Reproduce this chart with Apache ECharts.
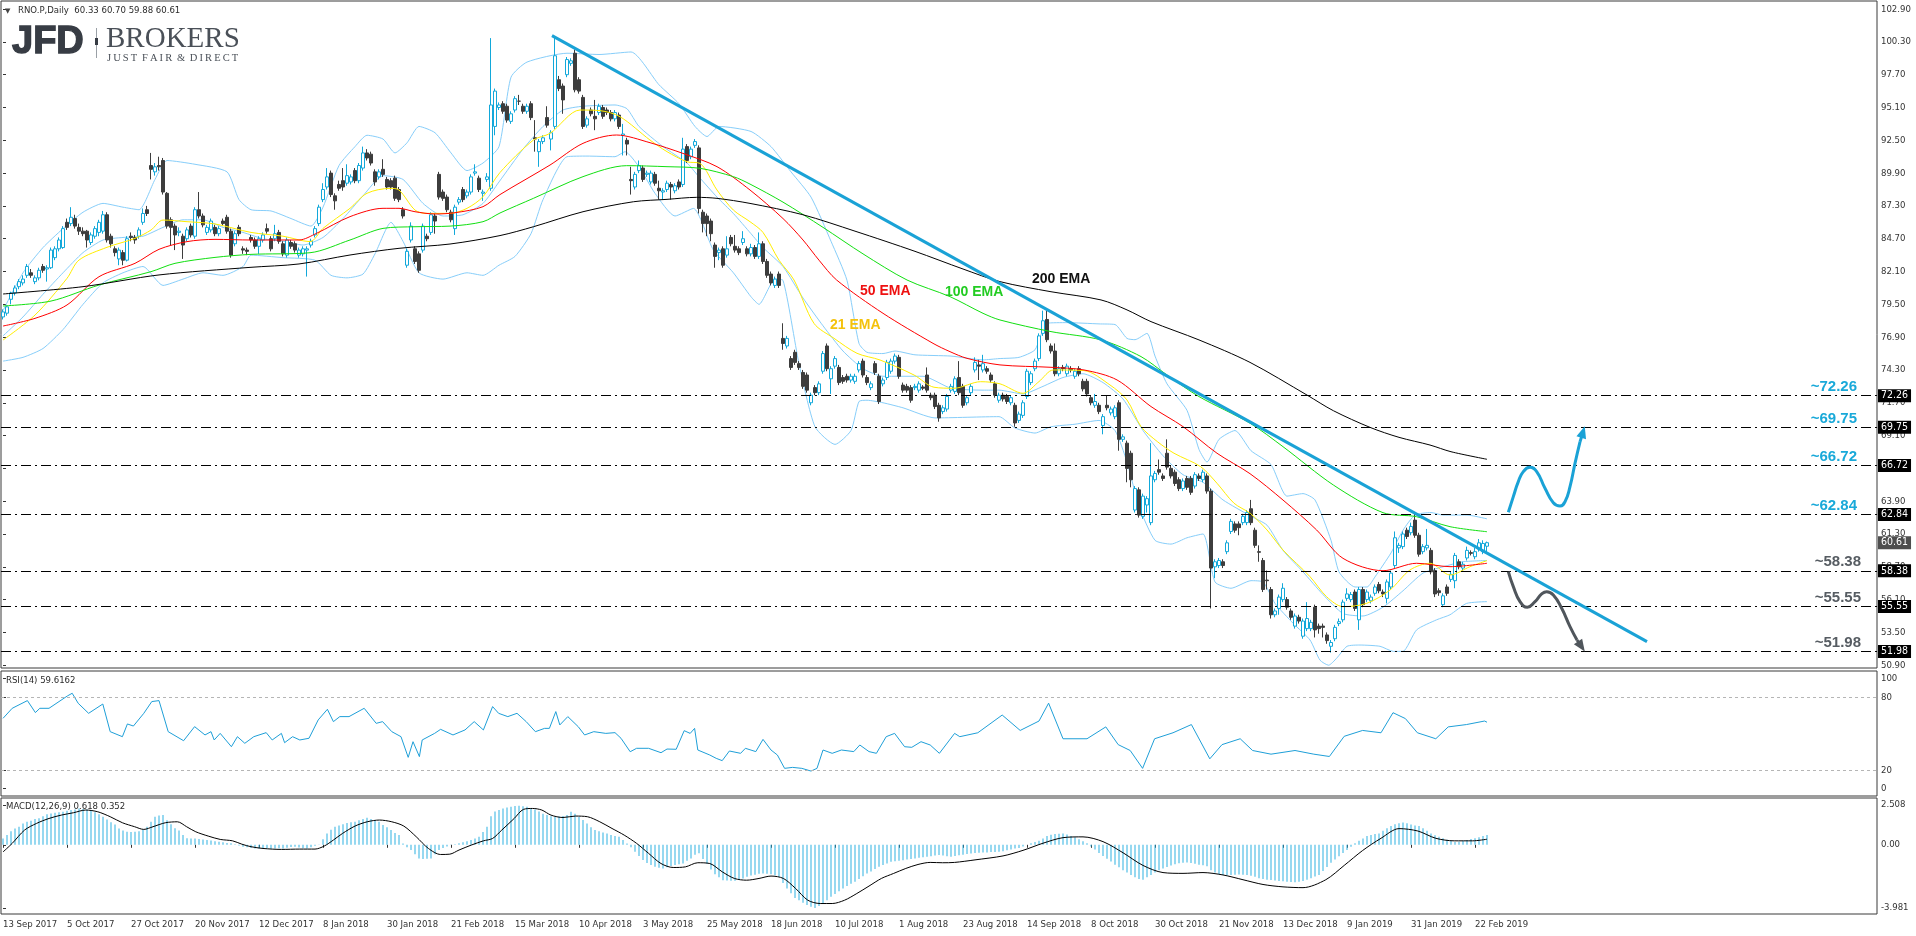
<!DOCTYPE html>
<html><head><meta charset="utf-8">
<script src="https://cdn.jsdelivr.net/npm/echarts@6/dist/echarts.min.js"></script>
<style>html,body{margin:0;padding:0;background:#fff;}#c{width:1916px;height:936px;}</style>
</head><body><div id="c"></div>
<script>
const tickLabels = ['13 Sep 2017','5 Oct 2017','27 Oct 2017','20 Nov 2017','12 Dec 2017','8 Jan 2018','30 Jan 2018','21 Feb 2018','15 Mar 2018','10 Apr 2018','3 May 2018','25 May 2018','18 Jun 2018','10 Jul 2018','1 Aug 2018','23 Aug 2018','14 Sep 2018','8 Oct 2018','30 Oct 2018','21 Nov 2018','13 Dec 2018','9 Jan 2019','31 Jan 2019','22 Feb 2019'];
const priceTicks = [50.9,53.5,56.1,58.7,61.3,63.9,66.5,69.1,71.7,74.3,76.9,79.5,82.1,84.7,87.3,89.9,92.5,95.1,97.7,100.3,102.9];
const rsiTicks = [5.8,20,80,95.7];
const rsiTickNames = ['0','20','80','100'];
const macdTicks = [-3.981,0,2.508];
// [open, close, low, high] per daily bar
const ohlc = [
[78.5,78.9,78.3,79.1],[78.8,79.3,78.6,79.4],[79.9,80.4,79.5,80.5],[80.4,80.8,80.2,81.0],
[80.9,81.3,80.7,81.5],[81.2,81.5,81.0,81.8],[81.8,82.5,81.6,82.7],[82.0,81.8,81.6,82.3],
[81.3,81.6,81.1,81.8],[81.6,82.2,81.4,82.4],[82.5,82.2,82.0,82.7],[82.3,82.4,81.3,82.6],
[82.4,83.8,82.3,84.0],[83.2,83.9,83.0,84.1],[83.9,84.6,83.7,84.8],[84.0,85.5,83.9,85.7],
[86.0,85.6,85.4,86.3],[85.9,86.4,85.7,87.2],[86.3,85.7,85.5,86.6],[85.6,85.3,85.0,85.9],
[85.3,85.1,84.9,85.6],[85.3,84.6,84.0,85.4],[84.4,85.0,84.2,85.2],[84.9,85.5,84.7,85.7],
[85.2,86.0,84.9,86.2],[85.3,86.6,85.1,86.9],[86.6,84.6,84.4,86.8],[84.9,84.3,84.0,85.1],
[83.9,83.6,83.3,84.1],[83.1,83.8,82.6,84.0],[83.6,83.0,82.6,83.8],[83.0,84.7,82.9,84.9],
[84.9,84.8,84.5,85.2],[84.8,84.6,84.3,85.0],[84.9,85.4,84.7,85.6],[86.0,86.7,85.8,87.1],
[87.0,86.7,86.5,87.3],[90.5,90.2,89.4,91.5],[90.0,90.4,89.7,90.7],[90.5,90.4,90.1,91.2],
[90.9,88.4,88.2,91.1],[88.3,85.7,85.5,88.4],[86.2,85.6,84.2,86.4],[85.7,85.0,83.8,85.9],
[85.2,85.3,84.9,85.6],[84.9,84.2,83.1,85.1],[84.7,85.4,84.5,85.6],[85.7,85.0,84.8,85.9],
[84.9,87.0,84.7,87.2],[87.0,86.5,86.3,88.4],[86.5,85.8,85.6,86.7],[85.2,85.6,85.0,85.8],
[85.4,86.1,85.2,86.3],[85.6,85.1,84.9,85.8],[85.1,85.5,84.9,85.7],[86.1,85.9,85.7,86.3],
[86.4,85.3,85.1,86.6],[85.3,83.4,83.2,85.5],[84.3,85.1,84.1,85.3],[85.6,85.1,84.9,85.8],
[83.9,83.8,83.5,84.1],[83.8,83.7,83.4,84.0],[84.8,84.6,84.4,85.0],[84.6,84.1,83.9,84.8],
[84.1,84.7,83.5,84.9],[84.6,85.0,84.4,85.2],[85.5,85.3,85.1,85.9],[84.7,83.9,83.7,84.9],
[84.7,85.1,84.5,85.8],[85.2,84.5,84.3,85.4],[84.3,83.5,83.3,84.5],[83.4,84.6,83.2,84.8],
[84.4,84.1,83.9,84.6],[84.3,83.8,83.6,84.5],[83.4,83.8,83.2,84.0],[83.5,83.9,83.3,84.1],
[83.8,83.9,81.7,84.1],[84.2,84.5,84.0,84.7],[85.0,85.5,84.8,85.7],[85.9,87.2,85.7,87.4],
[87.8,88.6,87.6,89.1],[88.8,89.6,88.6,90.3],[89.9,88.2,88.0,90.1],[88.1,87.7,87.0,88.3],
[89.0,88.7,88.5,89.3],[89.3,88.8,88.5,90.3],[89.1,89.7,88.9,90.6],[89.2,89.6,89.0,89.8],
[90.1,89.3,89.1,90.3],[89.3,90.5,89.1,90.7],[90.3,91.5,90.1,92.0],[91.5,91.1,90.9,91.8],
[91.4,90.7,90.5,91.6],[90.0,89.2,88.9,90.2],[89.6,90.0,89.4,90.2],[90.2,89.8,89.6,91.0],
[89.4,88.8,88.6,89.6],[89.3,88.8,88.6,89.5],[89.5,87.9,87.7,89.7],[88.6,87.8,87.6,88.8],
[87.0,86.5,86.3,87.2],[82.6,83.7,82.4,83.9],[84.6,85.7,84.4,86.0],[83.9,82.9,82.7,84.1],
[83.5,82.2,82.0,83.7],[83.8,85.7,83.6,85.9],[84.9,84.7,84.5,85.1],[85.2,86.6,85.0,86.8],
[86.5,86.1,85.1,86.7],[89.8,88.0,87.8,90.0],[88.4,87.9,87.7,88.6],[88.0,87.0,86.8,88.2],
[86.8,86.2,86.0,87.0],[85.5,87.2,85.0,87.4],[87.6,87.8,87.4,88.0],[88.6,87.8,87.6,88.8],
[88.1,88.4,87.9,88.6],[88.4,89.6,88.2,89.8],[89.9,90.0,89.7,90.6],[89.5,88.6,88.4,89.7],
[88.3,88.4,87.7,88.6],[89.4,89.6,89.2,89.9],[88.7,95.3,88.5,100.6],[93.6,96.4,92.9,96.6],
[95.1,95.3,94.9,95.5],[95.4,94.8,94.6,95.6],[95.2,94.1,93.9,95.4],[94.0,94.6,93.8,94.8],
[94.9,95.8,94.7,96.0],[95.6,95.6,95.3,96.1],[95.2,94.8,94.6,95.4],[94.8,95.2,94.6,95.4],
[95.4,94.3,94.1,95.6],[92.7,92.6,91.6,94.1],[91.6,92.4,90.4,92.6],[92.4,92.7,92.2,92.9],
[94.3,93.7,93.5,95.2],[92.6,93.1,91.7,93.3],[93.6,99.2,93.4,100.7],[97.3,96.6,96.4,97.6],
[96.8,95.7,94.6,97.0],[97.7,98.9,97.5,99.1],[98.6,98.8,98.4,99.0],[99.4,96.5,96.3,99.7],
[97.3,96.4,96.2,97.5],[95.9,93.6,93.4,96.1],[93.7,94.2,93.5,94.4],[94.9,94.6,94.4,95.1],
[94.4,94.2,93.3,95.7],[94.7,95.2,94.5,95.4],[95.1,94.4,94.2,95.3],[94.9,94.7,94.5,95.1],
[94.7,94.2,94.0,94.9],[94.2,94.7,94.0,94.9],[94.5,93.6,93.4,94.7],[92.9,93.0,91.3,93.8],
[92.5,92.2,91.3,92.7],[89.4,89.3,88.2,90.4],[88.8,89.8,88.6,90.0],[90.1,90.5,89.9,90.9],
[90.3,89.4,89.2,90.5],[89.8,89.9,89.6,90.1],[89.2,89.9,89.0,90.1],[89.8,89.1,88.9,90.0],
[88.7,88.5,87.8,89.3],[88.4,88.5,87.8,88.7],[88.6,89.1,88.4,89.3],[89.0,88.8,87.8,89.2],
[88.5,88.9,88.3,89.1],[89.2,88.8,88.6,89.4],[89.0,91.8,88.8,92.7],[92.0,90.9,90.7,92.2],
[91.2,91.8,91.0,92.0],[92.1,92.4,91.9,92.6],[91.9,87.1,86.7,92.1],[86.8,85.9,85.2,87.0],
[86.5,85.9,84.9,86.7],[86.1,85.1,84.5,86.3],[84.2,83.3,82.4,84.4],[83.6,83.8,83.0,84.0],
[83.9,82.6,82.4,84.1],[83.4,83.9,83.2,84.9],[84.8,84.3,84.1,85.0],[84.1,83.8,83.6,85.0],
[83.9,83.6,83.4,84.1],[84.4,84.7,84.2,85.3],[83.9,83.5,83.3,84.1],[83.5,84.0,83.3,84.3],
[84.0,83.3,83.1,84.2],[83.3,84.3,83.1,85.2],[84.3,82.9,82.7,84.5],[82.9,81.8,81.6,83.1],
[81.9,81.2,81.0,82.1],[81.0,81.5,80.8,81.7],[81.9,81.0,80.8,82.1],[76.8,76.4,75.9,78.0],
[76.2,76.8,76.0,77.0],[75.2,74.5,74.3,75.4],[75.7,74.9,74.7,75.9],[74.8,74.5,74.3,75.0],
[74.1,73.0,72.8,74.3],[73.9,72.7,72.5,74.1],[71.7,72.3,71.5,72.5],[72.9,72.5,72.3,73.1],
[72.5,73.2,72.3,73.4],[74.2,75.6,74.0,75.8],[76.2,74.4,74.2,76.4],[73.6,74.4,72.4,74.6],
[74.6,75.2,74.4,75.4],[74.5,73.3,73.1,74.7],[73.7,73.4,73.2,73.9],[73.8,73.5,73.3,74.0],
[73.5,73.8,73.3,74.0],[73.4,73.8,73.2,74.0],[74.3,74.8,74.1,75.0],[75.0,73.9,73.7,75.2],
[73.7,73.3,73.1,73.9],[72.9,73.2,72.7,73.4],[74.8,74.1,73.9,75.0],[73.8,71.8,71.6,74.0],
[73.2,73.5,73.0,73.7],[73.7,74.9,73.5,75.1],[74.2,75.0,74.0,75.2],[75.0,75.4,74.8,75.6],
[75.3,73.8,73.6,75.5],[73.1,72.7,72.5,73.3],[73.0,72.7,72.5,73.2],[72.9,71.9,71.7,73.1],
[72.9,73.0,72.7,73.2],[72.7,73.2,72.5,73.4],[72.95,72.85,72.7,73.1],[73.9,72.7,72.5,74.5],
[72.3,72.1,71.9,72.5],[72.3,71.4,71.2,72.5],[71.5,70.5,70.2,71.7],[71.0,71.3,70.8,71.5],
[71.2,72.2,71.0,72.4],[72.7,73.0,72.5,73.2],[72.6,73.6,72.4,73.8],[73.7,72.5,72.3,75.0],
[73.0,71.5,71.3,73.2],[71.7,72.1,71.5,72.3],[72.5,73.0,72.3,73.2],[74.3,74.9,74.1,75.3],
[74.7,74.6,73.5,75.1],[74.3,74.8,74.1,75.5],[74.4,74.2,74.0,74.6],[73.9,73.5,73.3,74.1],
[73.2,72.3,72.1,73.4],[71.9,72.3,71.7,72.5],[72.3,72.0,71.8,72.5],[72.2,71.8,71.6,72.4],
[71.7,72.1,71.5,72.3],[71.5,70.1,69.8,71.7],[70.3,70.8,70.1,71.0],[70.7,71.7,70.5,71.9],
[72.2,74.2,72.0,74.4],[73.3,74.0,73.1,74.2],[74.4,75.0,74.2,75.2],[75.2,77.0,75.0,77.2],
[77.2,78.2,77.0,79.0],[78.3,76.7,76.5,79.0],[76.2,75.8,75.6,76.4],[75.8,74.0,73.8,76.4],
[74.0,74.4,73.8,74.6],[74.5,74.4,74.2,74.7],[74.0,74.6,73.8,74.8],[74.4,74.3,74.1,74.6],
[73.8,74.2,73.6,74.4],[74.4,74.0,73.8,74.6],[73.4,72.8,72.6,73.6],[73.4,72.4,72.2,73.6],
[72.1,71.7,71.5,72.3],[71.5,71.8,71.3,72.4],[71.5,71.0,70.8,71.7],[69.9,70.6,69.2,70.8],
[71.5,71.3,71.1,72.3],[70.9,71.2,70.7,71.4],[70.6,71.3,70.4,71.5],[71.7,68.8,67.9,71.9],
[68.8,69.0,68.6,69.2],[68.5,66.5,65.4,68.7],[67.7,65.6,65.0,67.9],[63.2,64.9,63.0,65.1],
[64.8,62.8,62.6,65.0],[62.7,64.3,62.5,64.5],[63.6,64.1,63.0,64.3],[62.2,65.9,62.0,68.5],
[65.6,66.1,65.4,66.3],[66.4,66.2,66.0,67.2],[65.9,65.7,65.5,66.1],[67.7,66.6,66.4,68.8],
[66.5,65.9,65.7,66.7],[66.2,65.3,65.1,66.4],[65.6,64.9,64.7,65.8],[64.9,65.5,64.7,65.7],
[65.7,65.0,64.8,65.9],[65.7,64.6,64.4,65.9],[65.1,66.0,64.9,66.2],[65.9,65.7,65.5,66.1],
[65.6,66.2,65.4,66.4],[65.9,64.7,64.5,66.1],[64.7,58.6,55.4,64.9],[58.7,59.1,57.8,59.3],
[58.8,59.2,58.6,59.4],[59.1,58.8,58.6,59.3],[59.9,60.6,59.7,60.8],[61.5,62.3,61.3,62.5],
[62.1,61.6,61.4,62.3],[62.1,61.8,61.2,62.3],[62.2,62.7,62.0,62.9],[62.2,63.0,62.0,63.2],
[63.3,62.2,62.0,64.0],[61.6,60.4,60.2,61.8],[59.9,59.85,59.1,60.4],[59.2,56.9,56.7,59.4],
[57.65,57.6,56.9,58.4],[56.9,54.9,54.6,57.1],[54.9,55.2,54.7,55.4],[55.4,56.3,54.9,56.5],
[56.1,57.0,55.9,57.4],[56.1,55.5,55.3,56.3],[55.2,54.7,54.5,55.4],[54.0,54.8,53.8,55.0],
[54.7,54.4,54.2,54.9],[53.2,54.4,53.0,54.6],[53.8,54.6,53.6,55.9],[53.8,54.3,53.6,54.5],
[55.5,53.7,53.1,55.7],[54.0,53.8,53.4,54.2],[54.0,53.9,53.1,54.2],[53.3,52.85,52.6,53.5],
[52.4,52.7,51.9,52.9],[53.0,53.9,52.8,54.1],[54.2,54.35,54.0,54.6],[54.5,55.9,54.3,56.1],
[56.2,56.55,56.0,57.0],[56.1,56.5,55.9,56.7],[56.7,55.4,55.2,56.9],[54.5,56.9,53.7,57.1],
[56.9,55.7,55.5,57.1],[56.1,56.7,55.9,56.9],[56.0,56.3,55.8,56.5],[56.6,57.1,56.4,57.3],
[57.3,56.8,56.6,57.5],[56.7,56.55,56.3,56.9],[56.2,57.5,55.8,57.7],[57.1,58.2,56.9,58.4],
[58.8,61.0,58.6,61.5],[60.2,60.4,59.8,60.6],[60.3,61.3,60.1,61.5],[61.6,61.1,60.9,61.8],
[61.4,61.9,61.2,62.2],[62.4,61.2,61.0,62.9],[61.2,59.7,59.5,61.4],[59.9,60.3,59.7,60.5],
[60.2,60.4,60.0,61.7],[60.0,58.3,58.1,60.2],[58.4,56.55,56.3,58.6],[56.8,56.65,56.4,57.0],
[55.7,56.4,55.5,56.6],[57.1,56.6,56.4,57.3],[57.7,58.1,57.5,58.3],[57.6,59.6,57.0,59.8],
[59.1,58.7,58.5,59.3],[58.6,58.9,58.4,59.1],[59.4,60.0,59.2,60.3],[59.82,59.77,59.6,60.0],
[59.5,59.9,59.3,60.2],[60.1,60.6,59.9,60.9],[59.9,60.55,59.7,60.8],[60.33,60.61,59.88,60.70]
];
// indicator lines: [bar index, value]
const ema21 = [[0,76.67],[8,78.65],[16,81.56],[19,83.01],[26,84.02],[33,84.73],[37,85.39],[40,86.18],[46,86.05],[53,85.87],[62,85.2],[70,84.9],[76.75,84.47],[80,85.52],[86.75,87.11],[91,88.3],[96.75,88.69],[99,88.56],[103,86.97],[105.75,86.71],[111.75,86.71],[116,87.11],[120,88.03],[124.25,89.95],[132.6,92.52],[136.75,93.05],[144.25,94.9],[149.25,94.85],[154.25,94.37],[161.75,92.52],[166,91.6],[171,90.8],[174.25,90.67],[178.5,88.56],[182.6,86.97],[186.75,86.05],[190,85.2],[194,83.0],[197.75,81.43],[202.75,77.99],[207.75,76.81],[213.5,75.62],[219.25,75.09],[227.75,73.9],[232.75,72.93],[237.75,72.85],[244.4,73.37],[249.25,73.2],[255,72.45],[259,73.38],[262.6,74.3],[270.25,74.25],[276.75,73.11],[281,71.92],[284.5,69.81],[288.6,68.62],[292.75,67.7],[299.4,66.64],[303.5,65.32],[307.75,63.74],[311.75,62.94],[316,61.62],[320,60.03],[326.75,57.92],[330.9,56.33],[335,55.54],[340.9,55.8],[346.75,56.86],[351.75,58.45],[356.75,58.98],[361.75,58.05],[366.75,58.71],[371,59.19]];
const ema50 = [[0,77.78],[8,78.39],[16,79.45],[24,81.69],[33,82.75],[39,83.86],[46,84.47],[53,84.65],[62,84.6],[74,84.6],[78.4,85.13],[86.75,86.45],[95,87.11],[99,87.11],[103,86.84],[108,86.66],[113,86.76],[120,87.24],[124.25,88.2],[136.75,90.54],[145,92.26],[153.4,92.92],[161.75,92.31],[170,91.46],[178.5,90.41],[186.75,88.56],[195,86.3],[200,84.6],[204,83.0],[208.4,81.43],[220,78.79],[232.5,76.41],[236.75,75.75],[241,75.22],[249.25,74.7],[262,74.51],[270.25,74.3],[278.5,73.51],[287,71.4],[295,69.81],[303.5,67.7],[311.75,66.08],[320,63.99],[328.4,61.62],[335,59.37],[345,58.39],[353.4,58.98],[361.75,58.71],[371,58.98]];
const ema100 = [[0,79.37],[12,79.76],[24,81.03],[37,82.09],[43,82.75],[53,83.22],[62,83.46],[76.75,83.59],[86.75,84.6],[95,85.52],[103,85.65],[111.75,85.7],[120,86.05],[124.25,86.74],[132.6,87.9],[145,89.62],[155.9,90.49],[166,90.41],[174.25,90.28],[182.6,89.62],[186.75,89.03],[195,87.6],[205,85.6],[215,83.5],[226,81.43],[236.75,80.11],[245,78.79],[249.25,78.26],[262,77.34],[274.5,76.68],[284.5,75.36],[291,73.9],[299,72.19],[311.75,70.08],[320,68.22],[332.6,65.18],[345,62.99],[353.4,62.67],[361.75,61.88],[371,61.48]];
const ema200 = [[0,80.32],[20,80.9],[39,81.83],[61.75,82.43],[74,82.7],[86.75,83.41],[99,83.94],[111.75,84.28],[124.25,84.95],[132.6,85.65],[145,86.84],[157.6,87.63],[166,87.82],[173.4,87.98],[178.5,87.9],[186.75,87.5],[200,86.6],[213,85.3],[228,83.7],[240,82.3],[249.25,81.3],[262,80.5],[274.5,79.85],[281,79.06],[287,78.13],[299,76.68],[311.75,74.9],[326,72.31],[332.6,71.07],[341.75,69.75],[349,68.96],[356.75,68.35],[362,67.82],[371,67.22]];
const bbUpper = [[0,79.0],[5,82.0],[10,84.0],[15,85.5],[20,86.8],[25,87.5],[30,87.2],[34,87.0],[38,89.4],[41,90.9],[48,90.6],[56,90.0],[59,87.8],[62,87.0],[67,86.9],[72,86.3],[77,85.7],[80,87.2],[84,90.5],[88,92.0],[91,92.9],[95,92.6],[98,91.5],[101,92.3],[104,93.6],[108,93.1],[112,91.5],[116,90.1],[120,90.7],[124,92.0],[127,97.5],[131,98.7],[141,99.4],[149,99.3],[157,99.5],[164,96.9],[169,95.4],[173,93.6],[176,92.8],[179,93.6],[187,93.2],[192,92.0],[197,90.0],[202,88.0],[207,84.5],[211,81.4],[214,76.4],[216,75.7],[220,75.6],[223,75.8],[228,75.5],[237,75.4],[245,75.1],[249,75.2],[254,75.3],[258,75.9],[261,78.0],[266,78.05],[274,77.95],[278,77.9],[281,76.8],[283,76.7],[286,77.2],[288,75.4],[291,73.2],[296,71.1],[299,68.0],[301,67.0],[304,68.8],[308,69.5],[312,67.9],[317,66.8],[321,64.3],[325,64.5],[328,64.0],[332,60.8],[334,58.3],[338,57.1],[341,57.1],[343,57.9],[347,59.8],[350,61.6],[353,62.8],[357,63.0],[360,62.8],[366,62.8],[371,62.5]];
const bbMiddle = [[0,77.0],[5,78.5],[10,80.3],[15,82.0],[20,83.6],[25,84.6],[30,84.8],[35,84.9],[40,85.6],[45,86.2],[50,86.2],[55,85.6],[60,85.2],[65,84.7],[70,84.5],[75,84.2],[80,84.8],[85,86.3],[90,88.1],[95,89.7],[100,89.4],[105,87.5],[110,86.5],[115,86.6],[120,87.5],[124,89.2],[130,91.8],[135,93.6],[140,94.9],[145,95.2],[153,95.3],[156,95.0],[159,93.6],[165,92.0],[171,90.7],[174,89.6],[178.5,88.0],[182.6,86.7],[187,85.1],[190,84.0],[195,82.5],[200,80.0],[205,77.8],[210,75.8],[215,74.4],[220,73.8],[230,73.8],[237,72.85],[245,72.7],[249,72.7],[255,72.4],[260,73.0],[265,73.7],[270,74.0],[275,73.3],[280,72.0],[285,69.5],[290,67.5],[295,66.0],[300,65.4],[305,64.0],[312,62.7],[316,62.0],[320,60.0],[325,58.3],[330,56.5],[335,55.0],[340,54.8],[345,55.5],[350,56.8],[355,58.2],[360,58.7],[365,59.1],[371,59.2]];
const bbLower = [[0,75.0],[5,75.3],[10,76.0],[15,77.5],[20,79.5],[25,81.2],[30,82.0],[35,82.5],[40,81.0],[45,81.5],[50,82.0],[55,81.8],[60,82.5],[62,83.4],[70,83.2],[78,83.0],[82,81.8],[86,81.6],[90,81.9],[93,83.5],[97,86.0],[100,84.5],[104,82.0],[110,81.5],[116,82.0],[120,81.8],[124,82.6],[128,83.3],[132,85.1],[135,87.8],[141,91.2],[146,91.25],[153,91.2],[155.5,91.6],[159,90.4],[163,88.3],[168,86.5],[172.6,87.1],[177.6,83.8],[182.6,82.0],[187,80.1],[189,79.5],[193,81.5],[195,81.4],[199,74.8],[203,69.8],[208,68.4],[212,69.5],[214,71.8],[216,71.9],[220,71.7],[225,71.3],[233,70.5],[249,70.6],[253,69.7],[258,69.3],[262,69.8],[268,70.0],[274,70.3],[278,69.5],[281,67.0],[284,63.5],[288,60.8],[292,60.5],[296,61.0],[300,61.3],[303,57.5],[307,57.0],[312,57.6],[315,57.5],[318,55.8],[322.6,54.2],[326.75,52.9],[329.25,51.3],[331.4,50.9],[333.4,51.45],[336,52.4],[339.25,52.5],[344.25,52.4],[347.6,52.0],[350,52.0],[353.4,53.7],[358.4,54.5],[361.75,54.9],[365.9,55.8],[371,55.94]];
const levels = [72.26,69.75,66.72,62.84,58.38,55.55,51.98];
const lastPrice = 60.61;
const trendline = [[137.25,100.8],[411,52.77]];
const upArrow = [[376.33,63.02],[377.58,64.26],[378.83,65.45],[380.08,66.24],[381.75,66.58],[383.42,66.24],[385.5,64.92],[387.58,63.78],[389.25,63.52],[390.5,63.86],[391.75,65.05],[393.0,66.9],[394.25,68.6]];
const upArrowHead = [[394.25,68.6],[395.0,69.38]];
const downArrow = [[376.33,58.32],[377.58,57.13],[379.25,55.94],[381.08,55.49],[383.0,55.94],[384.67,56.55],[385.92,56.73],[387.58,56.47],[389.67,55.41],[391.75,53.96],[393.5,52.9]];
const downArrowHead = [[393.5,52.9],[394.6,52.39]];
const rsi = [[0,62.8],[2.3,71.0],[6.1,77.3],[8.1,67.5],[9.2,71.0],[11.5,71.0],[16.1,81.1],[17.3,83.3],[18.8,75.1],[21.4,66.9],[24.95,74.5],[26.8,51.9],[29.85,47.8],[31.1,58.2],[32.6,56.5],[35.2,66.9],[37.2,76.5],[39,77.3],[41.3,51.9],[45.15,44.5],[47.9,56.0],[50.5,49.2],[52,51.9],[52.8,45.1],[54.3,50.5],[57.1,39.6],[58.6,47.8],[60.45,42.4],[62.7,47.8],[65.8,51.1],[67.3,45.1],[69.6,50.5],[70.4,42.9],[72.4,47.8],[74.2,45.1],[76.5,46.5],[78.8,61.5],[81.1,70.2],[82.6,60.1],[84.2,64.2],[86.5,64.2],[88,66.9],[90.3,71.0],[93.3,58.7],[94.9,60.1],[97.2,51.9],[99.5,47.8],[101.3,30.9],[102.5,43.7],[104.1,31.5],[104.8,45.1],[107.9,50.5],[109.4,53.8],[112.5,49.2],[115.5,53.3],[117.8,60.1],[120.1,53.3],[122.4,72.4],[123.9,66.9],[126.2,64.2],[128.5,66.9],[130.8,60.1],[133.1,51.9],[135.4,54.6],[136.6,54.6],[138.2,68.3],[139.2,57.4],[141.2,64.2],[143.8,56.0],[145.4,49.2],[147.7,51.9],[150.7,50.5],[153,51.1],[154.5,46.5],[156.8,35.5],[158.4,38.3],[161.4,38.3],[164.5,34.7],[166,37.7],[168.3,37.5],[170.3,52.7],[171.8,50.5],[172.9,54.6],[173.7,36.9],[176.7,32.8],[178.3,30.1],[179.8,28.2],[181.6,36.1],[184.4,34.2],[185.6,38.3],[188.2,35.6],[190,45.6],[192,36.9],[193.6,32.8],[195.4,21.9],[197.4,22.7],[199.7,21.9],[202,19.7],[203.5,21.9],[205,36.9],[207.3,34.2],[209.6,36.9],[212.7,35.6],[214.2,41.0],[216.5,35.6],[218.35,34.2],[220.8,47.8],[222.9,50.5],[225.4,39.6],[227.2,39.1],[229.5,43.7],[231.8,41.0],[234.1,34.2],[237.9,50.5],[239.2,47.8],[243.7,51],[249.8,65.5],[254.3,52.9],[259,60.6],[261.4,75.2],[265,46.1],[271,46.1],[275.7,55.8],[278.8,41.3],[281.8,36.5],[284.9,21.9],[287.9,46.1],[292.5,51.0],[297.1,57.7],[301.7,29.7],[304.75,41.3],[309.3,46.1],[312.4,36.5],[317,33.5],[323,36.5],[327.7,33.5],[331.6,31.6],[335.3,48.1],[339.9,52.9],[344.5,51],[347.5,67.4],[350.6,62.6],[353.6,51],[358.2,46.1],[361.3,55.8],[365.85,57.7],[370.4,60.6],[371,59.6]];
const macdHist = [
0.40,0.62,0.85,1.02,1.14,1.35,1.45,1.52,1.62,1.68,1.80,1.92,1.98,2.02,2.05,2.08,
2.14,2.19,2.22,2.29,2.25,2.22,2.19,2.05,1.92,1.77,1.60,1.42,1.28,1.02,0.90,0.82,
0.80,0.82,0.85,0.95,1.14,1.45,1.77,1.85,1.87,1.55,1.30,1.05,0.90,0.62,0.42,0.40,
0.40,0.36,0.33,0.30,0.27,0.23,0.20,0.16,0.12,0.09,0.03,-0.05,-0.12,-0.16,-0.20,-0.23,
-0.24,-0.22,-0.23,-0.25,-0.23,-0.22,-0.23,-0.18,-0.14,-0.12,-0.17,-0.21,-0.23,-0.15,-0.06,-0.02,
0.35,0.72,0.95,1.14,1.22,1.30,1.38,1.42,1.45,1.55,1.62,1.70,1.62,1.55,1.45,1.25,
1.10,0.93,0.75,0.61,0.08,-0.15,-0.33,-0.60,-0.86,-0.90,-0.88,-0.86,-0.60,-0.33,-0.20,-0.10,
-0.02,0.03,0.09,0.16,0.23,0.30,0.40,0.51,0.80,1.14,1.80,2.10,2.19,2.28,2.35,2.40,
2.44,2.46,2.43,2.40,2.30,2.23,2.10,1.95,1.87,1.80,1.77,1.78,1.82,1.87,2.08,1.95,
1.75,1.56,1.35,1.10,0.93,0.85,0.78,0.72,0.62,0.56,0.51,0.30,0.08,-0.15,-0.44,-0.70,
-0.95,-1.15,-1.28,-1.39,-1.45,-1.49,-1.42,-1.33,-1.28,-1.22,-1.18,-1.00,-0.86,-0.62,-0.54,-0.90,
-1.20,-1.55,-1.85,-2.05,-2.23,-2.25,-2.27,-2.27,-2.20,-2.12,-2.02,-1.94,-1.88,-1.82,-1.81,-1.83,
-1.85,-1.92,-2.02,-2.40,-2.75,-3.05,-3.35,-3.49,-3.65,-3.80,-3.90,-3.98,-3.85,-3.70,-3.50,-3.28,
-3.10,-2.92,-2.75,-2.60,-2.45,-2.33,-2.15,-1.98,-1.81,-1.68,-1.52,-1.39,-1.28,-1.18,-1.07,-1.03,
-1.00,-0.97,-0.93,-0.90,-0.86,-0.82,-0.79,-0.75,-0.72,-0.68,-0.65,-0.68,-0.72,-0.75,-0.70,-0.66,
-0.62,-0.58,-0.55,-0.52,-0.50,-0.49,-0.48,-0.46,-0.45,-0.44,-0.40,-0.35,-0.30,-0.24,-0.20,-0.10,
0.00,0.10,0.18,0.25,0.40,0.55,0.64,0.68,0.70,0.72,0.65,0.56,0.48,0.35,0.22,0.10,
-0.10,-0.30,-0.52,-0.70,-0.88,-1.05,-1.25,-1.42,-1.60,-1.75,-1.90,-2.05,-2.15,-2.20,-2.05,-1.90,
-1.75,-1.60,-1.50,-1.40,-1.30,-1.22,-1.16,-1.13,-1.12,-1.15,-1.20,-1.25,-1.29,-1.35,-1.60,-1.75,
-1.85,-1.90,-1.92,-1.90,-1.88,-1.87,-1.88,-1.90,-1.95,-2.02,-2.10,-2.15,-2.20,-2.22,-2.25,-2.28,
-2.30,-2.33,-2.35,-2.36,-2.33,-2.28,-2.20,-2.10,-2.00,-1.90,-1.65,-1.40,-1.13,-0.92,-0.72,-0.52,
-0.32,-0.12,0.10,0.25,0.40,0.56,0.62,0.68,0.72,0.88,1.05,1.18,1.30,1.36,1.41,1.36,
1.28,1.22,1.18,1.05,0.88,0.72,0.60,0.50,0.41,0.32,0.24,0.18,0.20,0.25,0.30,0.36,
0.41,0.48,0.55,0.618
];
const macdSignal = [[0,-0.45],[2.3,0.09],[5.4,0.93],[8.4,1.35],[11.5,1.66],[14.55,1.87],[17.6,2.02],[20.7,2.19],[23.7,2.08],[26.8,1.77],[29.85,1.39],[32.9,1.14],[35.2,0.97],[37.5,1.14],[40.6,1.39],[43.6,1.45],[45.9,1.14],[48.2,0.82],[51.3,0.55],[54.3,0.34],[57.4,0.25],[59.7,0.04],[62,-0.12],[65,-0.23],[69.6,-0.29],[74.2,-0.27],[78,-0.27],[80.3,-0.08],[82.6,0.30],[84.9,0.72],[88,1.18],[91.05,1.45],[94.1,1.56],[97.2,1.45],[100.2,1.18],[103.3,0.51],[106.35,-0.23],[109.4,-0.61],[111.7,-0.59],[114,-0.33],[117.05,-0.02],[120.1,0.25],[122.4,0.40],[124.7,0.93],[127.8,1.66],[130.1,2.23],[132.4,2.29],[134.7,2.19],[137,1.87],[140,1.72],[143.1,1.81],[146.1,1.77],[149.2,1.45],[152.25,1.03],[155.3,0.61],[158.4,0.09],[161.4,-0.54],[164.5,-1.18],[167.55,-1.43],[170.6,-1.39],[173.7,-1.13],[176.7,-1.18],[179.8,-1.70],[182.85,-2.12],[185.9,-2.23],[189,-2.12],[192,-1.97],[195.1,-2.12],[198.15,-2.75],[201.2,-3.49],[204.3,-3.70],[207.3,-3.70],[210.4,-3.49],[213.45,-3.07],[216.5,-2.60],[219.6,-2.12],[222.6,-1.81],[225.7,-1.49],[228.75,-1.24],[231.8,-1.11],[234.9,-1.13],[237.9,-1.11],[243,-0.95],[250,-0.7],[255,-0.35],[260,0.1],[265,0.45],[270,0.5],[275,0.2],[280,-0.5],[285,-1.3],[290,-1.75],[295,-1.8],[300,-1.75],[305,-1.9],[310,-2.2],[315,-2.5],[320,-2.65],[325,-2.7],[330.7,-2.2],[335.3,-1.3],[339.9,-0.36],[344.5,0.41],[349,1.02],[353.7,0.87],[358.2,0.41],[362.8,0.25],[367.4,0.25],[371,0.352]];

// ---------------- chart ----------------
const N = 469; // visible bar slots (data + empty right margin)
const cats = Array.from({length: N}, (_, i) => String(i));
const FONT = "'DejaVu Sans Condensed','Liberation Sans Narrow','Liberation Sans',sans-serif";
const CYAN = '#12a8da';
const isTick = (i) => i % 16 === 0 && i / 16 < tickLabels.length;

function catAxis(g, show) {
  return {type:'category', gridIndex:g, data:cats, boundaryGap:true,
    axisLine:{show:false}, splitLine:{show:false},
    axisTick:{show:show, interval:isTick, alignWithLabel:true, length:3, lineStyle:{color:'#333'}},
    axisLabel:{show:show, interval:isTick, formatter:(v, i) => tickLabels[i / 16] || '', align:'left',
      margin:6, fontSize:9.5, color:'#333', fontFamily:FONT}};
}
function valX(g) { return {type:'value', gridIndex:g, min:-0.5, max:N - 0.5, show:false}; }
function yAx(g, min, max, ticks, fmt) {
  return {type:'value', gridIndex:g, position:'right', min:min, max:max, scale:true,
    axisLine:{show:false}, splitLine:{show:false},
    axisTick:{show:true, length:3, customValues:ticks, lineStyle:{color:'#333'}},
    axisLabel:{customValues:ticks, formatter:fmt, margin:4, fontSize:9.5, color:'#333', fontFamily:FONT}};
}
function line(data, color, width, xi, yi, smooth, z) {
  return {type:'line', data:data, xAxisIndex:xi, yAxisIndex:yi, symbol:'none', showSymbol:false,
    smooth:smooth, lineStyle:{color:color, width:width}, silent:true, animation:false, z:z || 3};
}

const levelMarks = levels.map((v, k) => ({
  yAxis: v,
  lineStyle: {color:'#000', type:[10,4,2,4], width:1},
  label: {show:true, position:'insideEndTop', formatter:'~' + v.toFixed(2),
    color: k < 4 ? '#19a9d9' : '#565c62', fontWeight:'bold', fontSize:15,
    fontFamily:"'Liberation Sans',Arial,sans-serif", distance: k < 4 ? [20, 1] : [16, 1]}
}));
const tagStyle = (bg) => ({show:true, position:'end', backgroundColor:bg, color:'#fff',
    padding:[1,3,0,3], lineHeight:12, fontSize:10.5, fontFamily:FONT, distance:1});
const tagMarks = levels.map(v => ({
  yAxis: v, lineStyle:{color:'rgba(0,0,0,0)', width:0},
  label: Object.assign(tagStyle('#000000'), {formatter: v.toFixed(2)})
}));
tagMarks.push({yAxis:lastPrice, lineStyle:{color:'rgba(0,0,0,0)', width:0},
  label: Object.assign(tagStyle('#4e4e4e'), {formatter: lastPrice.toFixed(2)})});

function txt(x, y, text, font, fill, extra) {
  return Object.assign({type:'text', x:x, y:y, z:100, silent:true,
    style:Object.assign({text:text, font:font, fill:fill, align:'left', verticalAlign:'middle'}, extra || {})});
}

const option = {
  backgroundColor:'#ffffff',
  animation:false,
  grid:[
    {left:1, top:1, width:1876, height:667, show:true, borderColor:'#3a3a3a', borderWidth:1, backgroundColor:'#fff'},
    {left:1, top:671, width:1876, height:125, show:true, borderColor:'#3a3a3a', borderWidth:1, backgroundColor:'#fff'},
    {left:1, top:798, width:1876, height:116, show:true, borderColor:'#3a3a3a', borderWidth:1, backgroundColor:'#fff'}
  ],
  xAxis:[catAxis(0,false), catAxis(1,false), catAxis(2,true), valX(0), valX(1), valX(2)],
  yAxis:[
    yAx(0, 50.68, 103.54, priceTicks, v => v.toFixed(2)),
    yAx(1, -0.7, 101.5, rsiTicks, v => rsiTickNames[rsiTicks.indexOf(v)]),
    yAx(2, -4.36, 2.949, macdTicks, v => v === 0 ? '0.00' : String(v))
  ],
  series:[
    line(bbUpper, '#87cefa', 1, 3, 0, 0.2, 2),
    line(bbMiddle, '#87cefa', 1, 3, 0, 0.2, 2),
    line(bbLower, '#87cefa', 1, 3, 0, 0.2, 2),
    {type:'candlestick', xAxisIndex:0, yAxisIndex:0, data:ohlc, barWidth:3, z:3, silent:true, animation:false,
      itemStyle:{color:'#ffffff', color0:'#3d3d3d', borderColor:CYAN, borderColor0:'#3d3d3d', borderWidth:1},
      markLine:{symbol:'none', silent:true, animation:false, z:5, data: levelMarks.concat(tagMarks)}},
    line(ema21, '#ffee00', 1, 3, 0, 0.3, 4),
    line(ema50, '#ff0000', 1, 3, 0, 0.3, 4),
    line(ema100, '#11e011', 1, 3, 0, 0.3, 4),
    line(ema200, '#000000', 1, 3, 0, 0.3, 4),
    line(trendline, '#1aa2d6', 3, 3, 0, false, 6),
    Object.assign(line(upArrow, '#1aa2d6', 3, 3, 0, 0.5, 6), {
      markLine:{symbol:['none','triangle'], symbolSize:[10,12], silent:true, animation:false,
        lineStyle:{color:'#1aa2d6', width:3, type:'solid'}, label:{show:false},
        data:[[{coord:upArrowHead[0]},{coord:upArrowHead[1]}]]}}),
    Object.assign(line(downArrow, '#50565c', 3, 3, 0, 0.5, 6), {
      markLine:{symbol:['none','triangle'], symbolSize:[10,12], silent:true, animation:false,
        lineStyle:{color:'#50565c', width:3, type:'solid'}, label:{show:false},
        data:[[{coord:downArrowHead[0]},{coord:downArrowHead[1]}]]}}),
    Object.assign(line(rsi, '#1e9fd8', 1, 4, 1, false, 3), {
      markLine:{symbol:'none', silent:true, animation:false, label:{show:false},
        lineStyle:{color:'#b5b5b5', type:[3,3], width:1}, data:[{yAxis:80},{yAxis:20}]}}),
    {type:'bar', xAxisIndex:2, yAxisIndex:2, data:macdHist, barWidth:1, silent:true, animation:false,
      itemStyle:{color:'#2fb2e2'}, z:2},
    line(macdSignal, '#000000', 1, 5, 2, 0.3, 3)
  ],
  graphic:[
    txt(5, 11, '\u25BC', "7px 'DejaVu Sans',sans-serif", '#444'),
    txt(18, 11, 'RNO.P,Daily  60.33 60.70 59.88 60.61', '9.5px ' + FONT, '#2b2b2b'),
    txt(12, 43, 'JFD', "bold 38px 'Liberation Sans',Arial,sans-serif", '#373c44', {stroke:'#373c44', lineWidth:1.4}),
    {type:'rect', z:100, silent:true, shape:{x:96, y:28, width:1, height:30}, style:{fill:'#9aa0a6'}},
    {type:'rect', z:100, silent:true, shape:{x:95, y:38, width:3, height:7}, style:{fill:'#373c44'}},
    txt(106, 39, 'BROKERS', "29px 'Liberation Serif','Times New Roman',serif", '#4a5058'),
    txt(107, 58, 'J\u2009U\u2009S\u2009T\u2009 F\u2009A\u2009I\u2009R\u2009 &\u2009 D\u2009I\u2009R\u2009E\u2009C\u2009T', "10.5px 'Liberation Serif','Times New Roman',serif", '#4a5058'),
    txt(860, 291, '50 EMA', "bold 14px 'Liberation Sans',Arial,sans-serif", '#ee1111'),
    txt(830, 325, '21 EMA', "bold 14px 'Liberation Sans',Arial,sans-serif", '#f4c20d'),
    txt(945, 292, '100 EMA', "bold 14px 'Liberation Sans',Arial,sans-serif", '#22cc22'),
    txt(1032, 279, '200 EMA', "bold 14px 'Liberation Sans',Arial,sans-serif", '#111111'),
    txt(6, 681, 'RSI(14) 59.6162', '9.5px ' + FONT, '#2b2b2b'),
    txt(6, 807, 'MACD(12,26,9) 0.618 0.352', '9.5px ' + FONT, '#2b2b2b')
  ]
};
const chart = echarts.init(document.getElementById('c'), null, {renderer:'canvas', width:1916, height:936});
chart.setOption(option);
</script>
</body></html>
